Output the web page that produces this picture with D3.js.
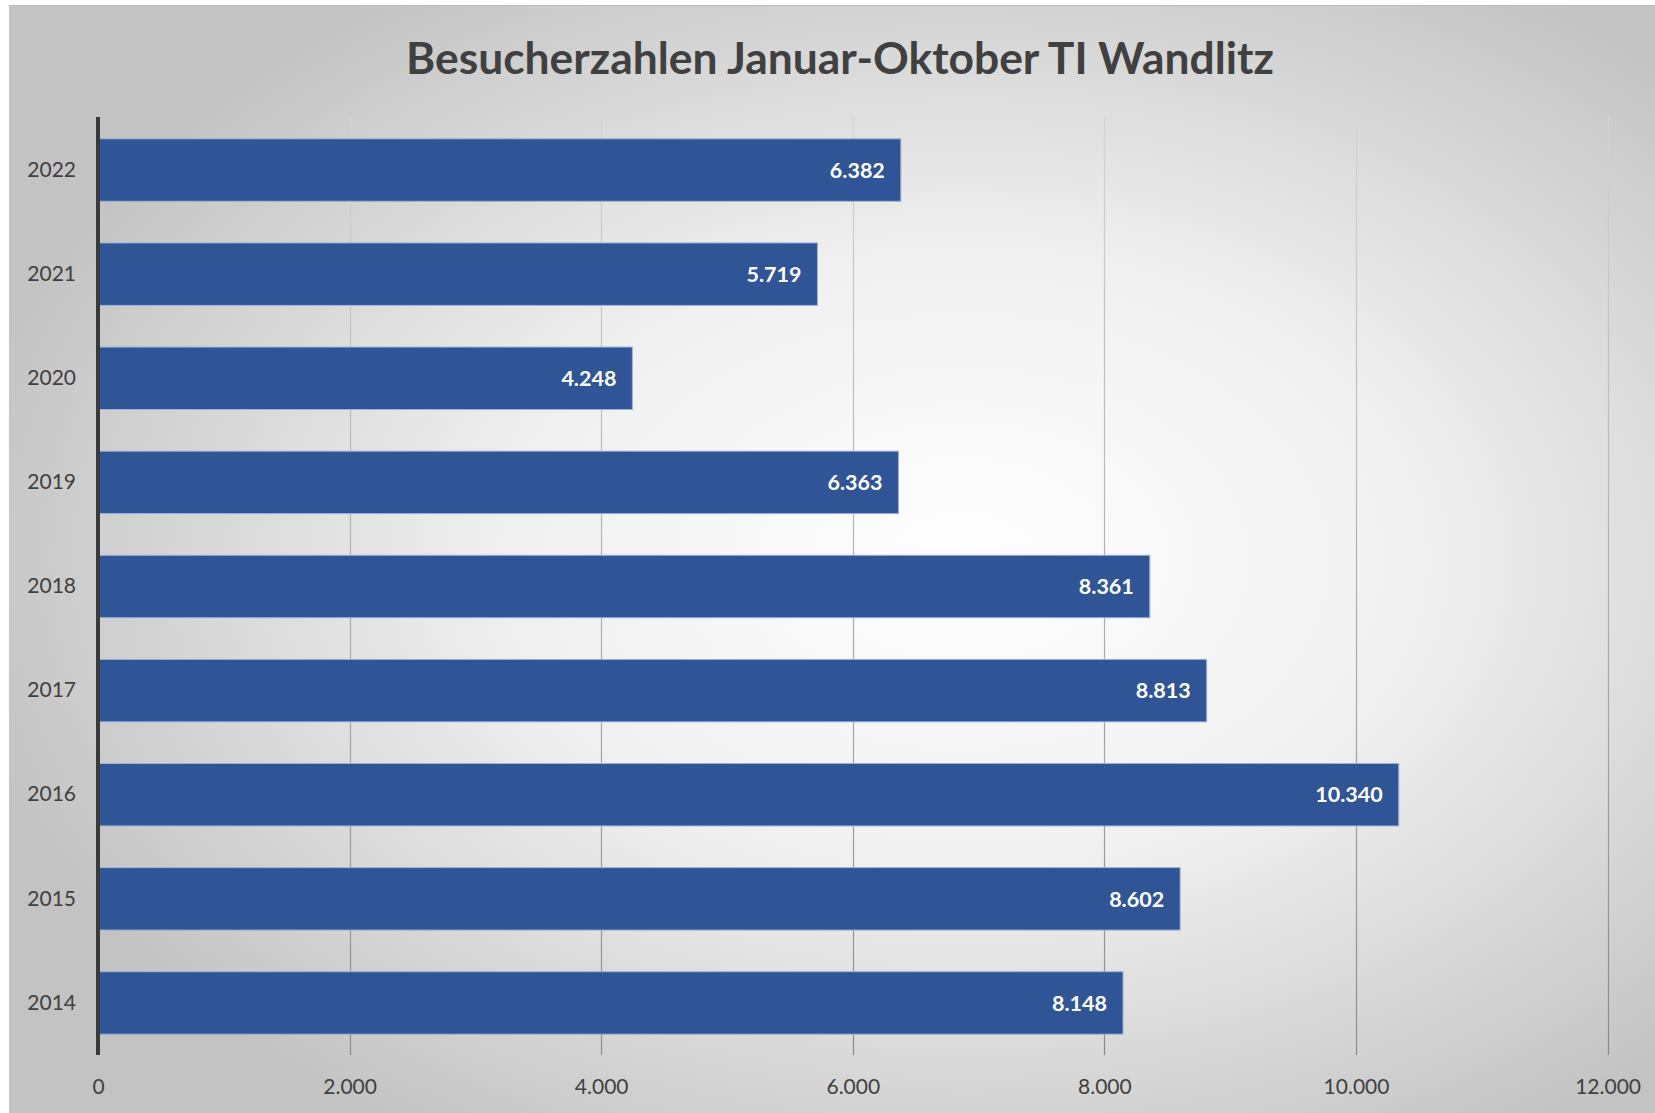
<!DOCTYPE html>
<html lang="de">
<head>
<meta charset="utf-8">
<script src="https://d3js.org/d3.v7.min.js"></script>
<style>
  body { margin: 0; background: #fff; }
  svg text { font-family: Lato, "Open Sans", sans-serif; }
</style>
</head>
<body>
<script>
// data
var years = ["2022", "2021", "2020", "2019", "2018", "2017", "2016", "2015", "2014"];
var visitors = [6382, 5719, 4248, 6363, 8361, 8813, 10340, 8602, 8148];
var xTicks = [0, 2000, 4000, 6000, 8000, 10000, 12000];
var title = "Besucherzahlen Januar-Oktober TI Wandlitz";

var W = 1655, H = 1113;
var svg = d3.select("body").append("svg")
  .attr("width", W).attr("height", H);

var defs = svg.append("defs");
var bg = defs.append("radialGradient").attr("id", "bg")
  .attr("cx", "58%").attr("cy", "50%").attr("r", "62%");
bg.append("stop").attr("offset", "0%").attr("stop-color", "#ffffff");
bg.append("stop").attr("offset", "45%").attr("stop-color", "#f0f0f0");
bg.append("stop").attr("offset", "100%").attr("stop-color", "#c3c3c3");

var margin = {left: 98, right: 48, top: 118, bottom: 58};

var gg = defs.append("linearGradient").attr("id", "grid")
  .attr("gradientUnits", "userSpaceOnUse")
  .attr("x1", 0).attr("x2", 0).attr("y1", margin.top).attr("y2", H - margin.bottom);
gg.append("stop").attr("offset", "0%").attr("stop-color", "#d4d4d4");
gg.append("stop").attr("offset", "100%").attr("stop-color", "#8a8a8a");

// background panel
svg.append("rect").attr("x", 9).attr("y", 5).attr("width", W - 9).attr("height", H - 5)
  .attr("fill", "url(#bg)");
svg.append("line").attr("x1", 9).attr("x2", W).attr("y1", 5.5).attr("y2", 5.5)
  .attr("stroke", "#bcbcbc").attr("stroke-width", 1);

var x = d3.scaleLinear().domain([0, 12000])
  .range([margin.left, margin.left + 6 * 251.6]);
var y = d3.scaleBand().domain(years)
  .range([margin.top, H - margin.bottom]).paddingInner(0.4).paddingOuter(0.2);

// gridlines
svg.append("g").selectAll("line").data(xTicks.slice(1)).join("line")
  .attr("x1", function(d){ return Math.round(x(d)) + 0.5; })
  .attr("x2", function(d){ return Math.round(x(d)) + 0.5; })
  .attr("y1", margin.top - 1).attr("y2", H - margin.bottom)
  .attr("stroke", "url(#grid)").attr("stroke-width", 1.2);

var fmt = function(v){ return d3.format(",")(v).replace(/,/g, "."); };

// bars
svg.append("g").selectAll("rect").data(visitors).join("rect")
  .attr("x", x(0))
  .attr("y", function(d, i){ return y(years[i]); })
  .attr("width", function(d){ return x(d) - x(0); })
  .attr("height", y.bandwidth())
  .attr("fill", "#2f5597")
  .attr("stroke", "#9fb3d9").attr("stroke-width", 1);

// value labels
svg.append("g").selectAll("text").data(visitors).join("text")
  .attr("x", function(d){ return x(d) - 16; })
  .attr("y", function(d, i){ return y(years[i]) + y.bandwidth() / 2; })
  .attr("dy", "0.36em")
  .attr("text-anchor", "end")
  .attr("fill", "#ffffff").attr("font-weight", "bold").attr("font-size", 21.5)
  .text(fmt);

// category axis
var yAxis = svg.append("g").attr("transform", "translate(" + margin.left + ",0)")
  .call(d3.axisLeft(y).tickSize(0).tickPadding(22));
yAxis.select(".domain").remove();
yAxis.selectAll("text").attr("font-size", 21).attr("fill", "#404040")
  .style("font-family", "Lato, sans-serif");
svg.append("line").attr("x1", margin.left).attr("x2", margin.left)
  .attr("y1", margin.top - 1).attr("y2", H - margin.bottom)
  .attr("stroke", "#3a3a3a").attr("stroke-width", 4);

// value axis
var xAxis = svg.append("g").attr("transform", "translate(0," + (H - margin.bottom) + ")")
  .call(d3.axisBottom(x).tickValues(xTicks).tickSize(0).tickPadding(24).tickFormat(fmt));
xAxis.select(".domain").remove();
xAxis.selectAll("text").attr("font-size", 21).attr("fill", "#404040")
  .style("font-family", "Lato, sans-serif");

// title
var t = svg.append("text").attr("x", 840).attr("y", 74)
  .attr("text-anchor", "middle").attr("font-weight", "bold")
  .attr("fill", "#404040").attr("font-size", 42).text(title);
var tw = t.node().getComputedTextLength();
t.attr("font-size", 42 * 868 / tw);
</script>
</body>
</html>
